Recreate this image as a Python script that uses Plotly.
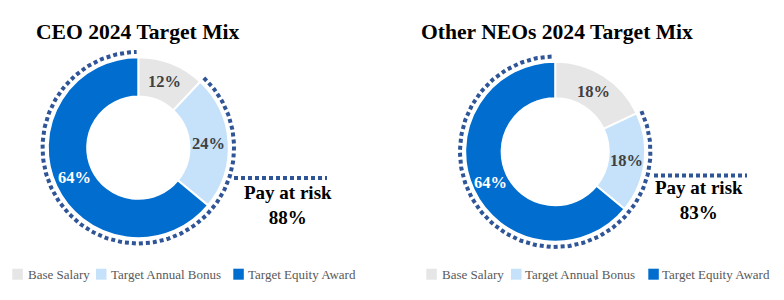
import math
import plotly.graph_objects as go

# ---------------- data ----------------
components = ["Base Salary", "Target Annual Bonus", "Target Equity Award"]
ceo_mix = [12, 24, 64]
neo_mix = [18, 18, 64]
titles = ["CEO 2024 Target Mix", "Other NEOs 2024 Target Mix"]
pay_at_risk = [88, 83]

# ---------------- styles / layout ----------------
W, H = 784, 300
colors = ["#E7E6E6", "#C5E2FA", "#006DCF"]
label_colors = ["#404040", "#404040", "#FFFFFF"]
dot_color = "#2F5597"
SERIF = "Liberation Serif, Times New Roman, serif"

charts = [
    dict(values=ceo_mix, cx=138.3, cy=147.7, r=90.5, hole=0.565, title_xy=(138, 31.5),
         risk_line=(234, 327, 178), risk_text=(288, 205),
         legend_sq=[12.3, 96, 233.3], legend_tx=[25.5, 109, 246], legend_y=274.2),
    dict(values=neo_mix, cx=555.2, cy=151.7, r=90.0, hole=0.595, title_xy=(556.5, 31.5),
         risk_line=(654, 747, 175.5), risk_text=(698.5, 200),
         legend_sq=[426.3, 511, 648.3], legend_tx=[439.5, 523, 660.3], legend_y=274.2),
]

fig = go.Figure()
annotations = []
shapes = []
DOT = dict(color=dot_color, width=4, dash="4px,3px")

for i, ch in enumerate(charts):
    vals = ch["values"]
    cx, cy, r = ch["cx"], ch["cy"], ch["r"]
    total = sum(vals)
    fig.add_trace(go.Pie(
        labels=components, values=vals, sort=False, direction="clockwise", rotation=0,
        hole=ch["hole"], textinfo="none", hoverinfo="skip", showlegend=False,
        marker=dict(colors=colors, line=dict(color="white", width=2)),
        domain=dict(x=[(cx - r) / W, (cx + r) / W], y=[1 - (cy + r) / H, 1 - (cy - r) / H]),
    ))

    # slice labels at slice mid-angle, mid-ring radius
    rin = r * ch["hole"]
    rm = (r + rin) / 2
    cum = 0
    for j, v in enumerate(vals):
        ang = math.radians((cum + v / 2) / total * 360)
        cum += v
        annotations.append(dict(
            x=cx + rm * math.sin(ang), y=cy - rm * math.cos(ang), xref="x", yref="y",
            text=f"{v}%", showarrow=False, xanchor="center", yanchor="middle",
            font=dict(family=SERIF, size=16.5, color=label_colors[j], weight="bold")))

    # dotted arc around the at-risk portion (bonus + equity)
    a0 = vals[0] / total * 360
    a1 = 359.0
    rd = r + 5.3
    n = 240
    xs, ys = [], []
    for k in range(n + 1):
        a = math.radians(a0 + (a1 - a0) * k / n)
        xs.append(cx + rd * math.sin(a))
        ys.append(cy - rd * math.cos(a))
    fig.add_trace(go.Scatter(x=xs, y=ys, mode="lines", hoverinfo="skip", showlegend=False,
                             line=DOT))
    x0, x1, yl = ch["risk_line"]
    fig.add_trace(go.Scatter(x=[x0, x1], y=[yl, yl], mode="lines", hoverinfo="skip",
                             showlegend=False, line=DOT))
    tx, ty = ch["risk_text"]
    annotations.append(dict(x=tx, y=ty, xref="x", yref="y", showarrow=False,
                            text=f"Pay at risk<br>{pay_at_risk[i]}%",
                            xanchor="center", yanchor="middle",
                            font=dict(family=SERIF, size=19, color="#000000", weight="bold")))

    # title
    annotations.append(dict(x=ch["title_xy"][0], y=ch["title_xy"][1], xref="x", yref="y",
                            showarrow=False, text=titles[i], xanchor="center", yanchor="middle",
                            font=dict(family=SERIF, size=21.6, color="#000000", weight="bold")))

    # legend
    ly = ch["legend_y"]
    for j, name in enumerate(components):
        sx = ch["legend_sq"][j]
        shapes.append(dict(type="rect", xref="x", yref="y", x0=sx, x1=sx + 10.5,
                           y0=ly - 5.5, y1=ly + 5.5, fillcolor=colors[j], line=dict(width=0)))
        annotations.append(dict(x=ch["legend_tx"][j], y=ly, xref="x", yref="y",
                                showarrow=False, text=name, xanchor="left", yanchor="middle",
                                font=dict(family=SERIF, size=13, color="#595959")))

fig.update_layout(
    width=W, height=H, margin=dict(l=0, r=0, t=0, b=0),
    paper_bgcolor="white", plot_bgcolor="rgba(0,0,0,0)",
    xaxis=dict(range=[0, W], visible=False, fixedrange=True),
    yaxis=dict(range=[H, 0], visible=False, fixedrange=True),
    annotations=annotations, shapes=shapes, showlegend=False,
)
fig.write_html("out.html")
